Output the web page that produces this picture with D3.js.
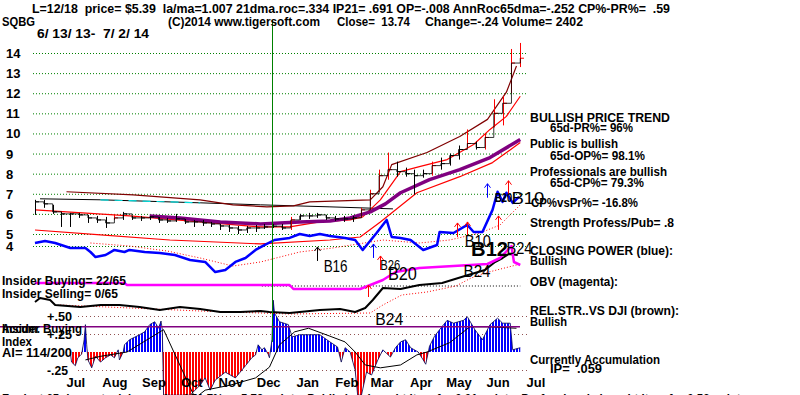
<!DOCTYPE html>
<html>
<head>
<meta charset="utf-8">
<script src="https://cdn.jsdelivr.net/npm/d3@7"></script>
<style>
body { margin: 0; background: #fff; }
svg { display: block; }
text { font-family: "Liberation Sans", Arial, sans-serif; white-space: pre; fill: #000; }
</style>
</head>
<body>
<div id="chart"></div>
<script>
var startDate = new Date(2013, 5, 13),
    endDate = new Date(2014, 6, 2);

var months = ["Jul","Aug","Sep","Oct","Nov","Dec","Jan","Feb","Mar","Apr","May","Jun","Jul"];
var monthDates = ["2013-07-15","2013-08-15","2013-09-15","2013-10-15","2013-11-15","2013-12-15",
                  "2014-01-15","2014-02-15","2014-03-15","2014-04-15","2014-05-15","2014-06-15","2014-07-15"];
var priceTicks = [14,13,12,11,10,9,8,7,6,5,4];
var aiTicks = [0.5, 0.25, -0.25];
var aiTickLabels = ["+.50","+.25","-.25"];
var aiLevel = 0.35;
var lastSignalDay = 188;   // 12/18/13

// weekly bars, one every 7 days from 6/13/13
var weekHigh  = [6.7,6.7,6.45,6.1,6.05,6.05,5.95,5.9,5.85,5.95,6.1,5.9,5.9,5.9,5.85,5.8,6.0,5.75,5.7,5.7,
                 5.6,5.5,5.45,5.4,5.4,5.45,5.5,5.5,5.5,5.85,6.0,6.05,6.05,5.95,5.9,5.9,5.9,6.3,7.2,8.2,
                 9.05,8.6,8.3,8.2,8.2,8.6,8.8,9.0,9.4,10.2,9.6,10.0,11.7,11.85,14.2,14.5];
var weekLow   = [5.95,6.3,6.0,5.35,5.35,5.8,5.55,5.55,5.3,5.7,5.7,5.7,5.65,5.7,5.55,5.55,5.6,5.5,5.35,5.4,
                 5.35,5.2,5.1,5.0,5.05,5.1,5.25,5.3,5.2,5.2,5.7,5.75,5.8,5.7,5.65,5.6,5.6,5.85,6.4,7.1,
                 7.7,7.85,7.85,6.95,7.8,7.9,8.2,8.4,8.7,9.3,9.2,9.2,10.3,10.4,12.0,13.3];
var weekClose = [6.6,6.5,6.1,6.0,6.0,5.95,5.8,5.7,5.55,5.8,6.0,5.8,5.8,5.85,5.7,5.65,5.75,5.6,5.6,5.55,
                 5.5,5.4,5.3,5.2,5.3,5.3,5.35,5.39,5.3,5.7,5.9,5.9,5.95,5.8,5.75,5.75,5.8,6.2,7.0,7.9,
                 8.2,8.1,8.0,7.9,8.0,8.4,8.5,8.9,9.2,9.5,9.3,9.8,11.0,11.5,13.5,13.74];

// [days since 6/13/13, value]
var closingPower = [[0,4.25],[8,4.42],[16,4.25],[28,3.83],[40,3.83],[44,3.5],[48,3.08],[56,3.25],[63,3.67],[71,3.5],
  [75,3.67],[87,3.5],[99,3.42],[111,3.25],[123,2.83],[135,2.67],[143,1.83],[151,2.0],[159,2.67],[167,3.0],
  [175,3.67],[182,4.08],[190,4.5],[202,4.67],[210,5.0],[218,4.83],[226,5.0],[234,4.83],[246,4.67],[254,4.5],
  [260,3.67],[271,5.05],[279,5.7],[283,4.75],[290,4.67],[298,4.5],[308,3.67],[319,4.08],[321,5.1],[332,5.05],
  [343,5.45],[348,5.1],[355,5.1],[363,6.2],[367,7.1],[371,6.6],[374,7.05],[379,6.55],[384,6.85]];
var cpAverage = [[44,4.25],[75,4.0],[105,3.58],[131,3.0],[157,2.33],[179,2.67],[210,3.5],[236,3.83],[276,4.5],
  [305,4.25],[329,4.5],[353,5.05],[369,5.45],[385,6.45]];
var ma65 = [[91,5.9],[115,5.8],[147,5.6],[179,5.5],[210,5.6],[234,5.65],[250,5.8],[266,6.1],[278,6.5],[290,7.05],
  [313,7.7],[337,8.2],[361,8.8],[385,9.7]];
var ma21 = [[0,6.2],[25,6.1],[75,5.9],[131,5.6],[179,5.35],[202,5.35],[226,5.6],[250,5.7],[260,5.85],[274,6.7],
  [290,8.1],[305,8.35],[327,8.7],[348,9.45],[361,10.2],[374,10.85],[385,11.85]];
var lowerBand = [[0,5.2],[52,4.92],[107,4.5],[179,4.17],[234,4.5],[258,4.75],[274,5.6],[303,7.05],[337,7.85],
  [363,8.55],[385,9.55]];
var upperBand = [[25,7.1],[78,6.95],[131,6.7],[157,6.45],[184,6.35],[205,6.4],[218,6.6],[266,6.7],[276,7.35],
  [283,8.45],[311,9.05],[337,9.85],[359,10.7],[374,12.05],[382,13.35]];
var longMa = [[4,6.75],[52,6.7],[131,6.55],[179,6.45],[234,6.35],[284,6.25]];

var obv = [[0,37],[71,37],[73,35],[202,35],[205,31],[258,31],[266,35],[276,40],[286,48],[305,52],[332,54],
  [359,56],[369,62],[375,70],[378,74],[380,58],[385,55]];
var relStrength = [[0,18],[4,22],[12,20],[16,15],[36,13],[52,15],[67,15],[83,13],[99,10],[115,13],[131,11],
  [147,8],[163,8],[179,9],[186,8],[202,7],[226,10],[242,11],[254,8],[262,12],[268,20],[276,32],[290,31],
  [305,35],[323,37],[341,44],[357,50],[365,58],[371,62],[376,66],[383,65]];
var rsAverage = [[20,15],[131,9],[202,6],[266,7],[276,15],[291,25],[311,28],[334,34],[346,42],[357,47],[385,56]];

var accumIndex = [[28,0],[29,-0.14],[32,-0.19],[34,-0.08],[37,-0.03],[39,0.17],[40,0.38],[41,0.1],[42,-0.11],
  [45,-0.22],[48,-0.06],[52,-0.14],[56,-0.08],[60,-0.04],[63,-0.08],[66,0.03],[67,-0.11],[70,0],[71,0.1],
  [75,0.17],[83,0.24],[87,0.28],[91,0.38],[95,0.42],[98,0.33],[100,0.43],[101,0.31],[102,-0.6],[123,-0.6],
  [131,-0.46],[135,-0.36],[139,-0.53],[143,-0.39],[151,-0.28],[159,-0.36],[167,-0.19],[172,-0.08],[175,-0.04],
  [177,0.1],[180,0.03],[182,0.06],[185,-0.03],[186,-0.08],[188,0.17],[189,0.72],[190,0.54],[194,0.42],
  [201,0.38],[204,0.21],[210,0.24],[226,0.24],[234,0.14],[240,0.07],[243,-0.14],[246,0.06],[250,0],
  [254,-0.25],[256,-0.6],[259,-0.6],[263,-0.28],[267,-0.32],[272,-0.11],[276,0.03],[282,-0.07],[286,0.06],
  [290,0.14],[294,0.17],[298,0.06],[304,0],[308,-0.11],[310,-0.17],[313,0.08],[317,0.22],[321,0.31],
  [327,0.44],[332,0.4],[340,0.44],[343,0.49],[349,0.31],[355,0.17],[361,0.38],[367,0.47],[371,0.4],
  [377,0.4],[379,0.03],[385,0.06]];
var aiAverage = [[40,-0.11],[52,-0.06],[73,0],[102,0.31],[127,-0.64],[135,-0.53],[155,-0.46],[175,-0.36],
  [186,-0.21],[194,0.1],[206,0.28],[217,0.33],[234,0.22],[246,0.14],[254,0],[262,-0.18],[274,-0.22],
  [290,-0.18],[303,-0.04],[311,0],[329,0.13],[345,0.35],[361,0.35],[382,0.33]];

// signals
var arrowDay  = [224, 268, 274, 335, 343, 367, 359, 375];
var arrowTip  = [3.92, 4.17, 3.17, 5.55, 5.6, 5.9, 7.5, 7.65];
var arrowKind = ["buy","cp","vol","vol","vol","vol","cp","vol"];
var signalText = ["B16","B26","B20","B24","B10","B12","B24","B20","B10"];
var signalDay  = [229, 274, 280, 340, 341, 346, 374, 365, 378];
var signalVal  = [1.83, 2.0, 1.17, 1.42, 3.92, 3.17, 3.33, 6.6, 6.5];

var svg = d3.select("#chart").append("svg").attr("width", 800).attr("height", 395);

var x = d3.scaleTime().domain([startDate, endDate]).range([35, 519]);
function dayX(d) { return x(new Date(+startDate + d * 864e5)); }
var yPrice = d3.scaleLinear().domain([4, 5, 14]).range([246, 234, 53]);
var yLine = d3.scaleLinear().domain([0, 100]).range([320, 220]);
var yAI = d3.scaleLinear().domain([-0.25, 0.5]).range([370, 316]);

function addText(str, px, py, size, weight, fit, anchor) {
  var t = svg.append("text").attr("x", px).attr("y", py)
    .attr("font-size", size).attr("font-weight", weight).text(str);
  if (fit) t.attr("textLength", fit).attr("lengthAdjust", "spacingAndGlyphs");
  if (anchor) t.attr("text-anchor", anchor);
  return t;
}

function drawLine(data, scale, color, w, dash) {
  var p = svg.append("path").datum(data)
    .attr("fill", "none").attr("stroke", color).attr("stroke-width", w)
    .attr("stroke-linejoin", "round")
    .attr("d", d3.line().x(function(d) { return dayX(d[0]); }).y(function(d) { return scale(d[1]); }));
  if (dash) p.attr("stroke-dasharray", dash);
  return p;
}

// price grid
svg.append("g").selectAll("line").data(priceTicks).join("line")
  .attr("x1", 33).attr("x2", 527)
  .attr("y1", function(d) { return yPrice(d) + 0.5; }).attr("y2", function(d) { return yPrice(d) + 0.5; })
  .attr("stroke", "#008000").attr("stroke-width", 1).attr("stroke-dasharray", "1,2");
svg.append("g").selectAll("text").data(priceTicks).join("text")
  .attr("x", 6).attr("y", function(d) { return yPrice(d) + 5; })
  .attr("font-size", 13).attr("font-weight", "bold").text(function(d) { return d; });

// accumulation grid
svg.append("g").selectAll("line").data(aiTicks).join("line")
  .attr("x1", 78).attr("x2", 527)
  .attr("y1", function(d) { return yAI(d) + 0.5; }).attr("y2", function(d) { return yAI(d) + 0.5; })
  .attr("stroke", "#905050").attr("stroke-width", 1).attr("stroke-dasharray", "1,3");
aiTicks.forEach(function(t, i) { addText(aiTickLabels[i], 47, yAI(t) + 5, 13, "bold", i == 2 ? 21 : 25); });

// striped accumulation histogram
var defs = svg.append("defs");
function stripes(id, color) {
  var p = defs.append("pattern").attr("id", id).attr("patternUnits", "userSpaceOnUse")
    .attr("width", 3).attr("height", 8);
  p.append("rect").attr("width", 3).attr("height", 8).attr("fill", "#fff");
  p.append("rect").attr("width", 2).attr("height", 8).attr("fill", color);
}
stripes("blueStripe", "#0000ff");
stripes("redStripe", "#ff0000");
defs.append("clipPath").attr("id", "aiUp").append("rect")
  .attr("x", 0).attr("y", 0).attr("width", 800).attr("height", yAI(0));
defs.append("clipPath").attr("id", "aiDown").append("rect")
  .attr("x", 0).attr("y", yAI(0)).attr("width", 800).attr("height", 100);

var aiArea = d3.area().x(function(d) { return dayX(d[0]); })
  .y0(yAI(0)).y1(function(d) { return yAI(d[1]); });
svg.append("path").datum(accumIndex).attr("d", aiArea).attr("fill", "url(#blueStripe)").attr("clip-path", "url(#aiUp)");
svg.append("path").datum(accumIndex).attr("d", aiArea).attr("fill", "url(#redStripe)").attr("clip-path", "url(#aiDown)");
drawLine(accumIndex, yAI, "#000050", 0.8);
drawLine(aiAverage, yAI, "#000", 1);

svg.append("line").attr("x1", 0).attr("x2", 520)
  .attr("y1", yAI(aiLevel)).attr("y2", yAI(aiLevel))
  .attr("stroke", "#800080").attr("stroke-width", 1.5);

// price panel indicator lines
drawLine(longMa, yPrice, "#000", 1);
drawLine(longMa.filter(function(d) { return d[0] >= 52 && d[0] <= 141; }), yPrice, "#00e0e0", 1.2, "8,6");
drawLine(upperBand, yPrice, "#800000", 1.2);
drawLine(lowerBand, yPrice, "#ff0000", 1.2);
drawLine(ma21, yPrice, "#ff0000", 1.2);
drawLine(cpAverage, yPrice, "#ff0000", 1, "1,2");
drawLine(ma65, yPrice, "#800080", 3.5);

// weekly price bars
var bars = svg.append("g").selectAll("g").data(weekClose).join("g")
  .attr("stroke", function(d, i) {
    if (i == 0) return "#000";
    var prev = weekClose[i - 1];
    return (weekHigh[i] > prev * 1.07 || d > prev * 1.05) ? "#ff0000" : "#000";
  });
bars.append("line")
  .attr("x1", function(d, i) { return Math.round(dayX(7 * i)) + 0.5; })
  .attr("x2", function(d, i) { return Math.round(dayX(7 * i)) + 0.5; })
  .attr("y1", function(d, i) { return yPrice(weekHigh[i]); })
  .attr("y2", function(d, i) { return yPrice(weekLow[i]); });
bars.append("line")
  .attr("x1", function(d, i) { return Math.round(dayX(7 * i)); })
  .attr("x2", function(d, i) { return Math.round(dayX(7 * i)) + 4; })
  .attr("y1", function(d) { return yPrice(d); })
  .attr("y2", function(d) { return yPrice(d); });
svg.append("path").datum(weekClose)
  .attr("fill", "none").attr("stroke", "#000").attr("stroke-width", 0.8)
  .attr("d", d3.line().curve(d3.curveStepAfter)
    .x(function(d, i) { return dayX(7 * i); }).y(function(d) { return yPrice(d); }));

drawLine(closingPower, yPrice, "#0000ff", 2.5);

// OBV / relative strength
svg.append("line").attr("x1", dayX(180)).attr("x2", dayX(385))
  .attr("y1", yLine(34)).attr("y2", yLine(34))
  .attr("stroke", "#000").attr("stroke-dasharray", "1,2");
drawLine(rsAverage, yLine, "#ff0000", 1, "1,2");
drawLine(relStrength, yLine, "#000", 2);
drawLine(obv, yLine, "#ff00ff", 2.5);

// last-signal marker
svg.append("line").attr("x1", Math.round(dayX(lastSignalDay)) + 0.5).attr("x2", Math.round(dayX(lastSignalDay)) + 0.5)
  .attr("y1", 20).attr("y2", yAI(0.14)).attr("stroke", "#008000").attr("stroke-width", 1);

// arrows
var arrowColor = { buy: "#000", cp: "#0000ff", vol: "#ff0000" };
function arrow(px, py, len, color) {
  px = Math.round(px) + 0.5;
  svg.append("path").attr("fill", "none").attr("stroke", color).attr("stroke-width", 1)
    .attr("d", "M" + px + "," + (py + len) + "V" + py + "M" + (px - 3) + "," + (py + 4) + "L" + px + "," + py + "L" + (px + 3) + "," + (py + 4));
}
arrowDay.forEach(function(d, i) { arrow(dayX(d), yPrice(arrowTip[i]), 14, arrowColor[arrowKind[i]]); });
arrow(dayX(264), yLine(35), 12, "#ff0000");

// signal labels
var signalStyle = [[17,"normal",24],[15,"normal",20],[18,"normal",29],[17,"normal",27],[17,"normal",26],
                   [21,"bold",37],[17,"normal",26],[12,"bold",17],[17,"normal",33]];
signalText.forEach(function(s, i) {
  var st = signalStyle[i];
  addText(s, dayX(signalDay[i]), yPrice(signalVal[i]), st[0], st[1], st[2]);
});
addText("B24", dayX(270), yAI(0.375), 17, "normal", 28);

// header
addText("L=12/18  price= $5.39  la/ma=1.007 21dma.roc=.334 IP21= .691 OP=-.008 AnnRoc65dma=-.252 CP%-PR%=  .59",
        32, 13, 13, "bold", 638);
addText("SQBG", 2, 25.5, 13, "bold", 33);
addText("(C)2014 www.tigersoft.com", 168, 25.5, 13, "bold", 152);
addText("Close=  13.74", 337, 25.5, 13, "bold", 73);
addText("Change=-.24 Volume= 2402", 425, 25.5, 13, "bold", 158);
addText("6/ 13/ 13-  7/ 2/ 14", 37, 38, 13, "bold", 112);

// right-hand notes
var notes = [
  ["BULLISH PRICE TREND", 530, 122, 140], ["65d-PR%= 96%", 550, 132, 83],
  ["Public is bullish", 530, 148, 88], ["65d-OP%= 98.1%", 550, 160, 95],
  ["Professionals are bullish", 530, 176, 137], ["65d-CP%= 79.3%", 550, 187, 94],
  ["CP%vsPr%= -16.8%", 531, 207, 107], ["Strength Profess/Pub= .8", 530, 227, 144],
  ["CLOSING POWER (blue):", 530, 255, 143], ["Bullish", 530, 265, 37],
  ["OBV (magenta):", 530, 286, 88], ["REL.STR..VS DJI (brown):", 530, 315, 149],
  ["Bullish", 530, 326, 37], ["Currently Accumulation", 530, 364, 130], ["IP=  .059", 550, 373, 52]
];
notes.forEach(function(n) { addText(n[0], n[1], n[2], 13, "bold", n[3]); });

// left-hand notes
addText("Insider Buying= 22/65", 2, 285, 13, "bold", 124);
addText("Insider Selling= 0/65", 2, 298, 13, "bold", 116);
addText("Accum.", 2, 333, 13, "bold", 38);
addText("Insider Buying", 2, 333, 13, "bold", 80);
addText("Index", 2, 346, 13, "bold", 30);
addText("AI= 114/200", 2, 357, 13, "bold", 70);

// month axis
var xAxis = d3.axisBottom(x)
  .tickValues(monthDates.map(function(s) { return d3.timeParse("%Y-%m-%d")(s); }))
  .tickFormat(function(d, i) { return months[i]; })
  .tickSize(0).tickPadding(0);
var ax = svg.append("g").attr("transform", "translate(0,378)").call(xAxis);
ax.select(".domain").remove();
ax.selectAll("text").attr("font-size", 13).attr("font-weight", "bold")
  .attr("font-family", "Liberation Sans, Arial, sans-serif").attr("fill", "#000");

addText("For last 65 days, stock has gained 71.7% or 5.79 points. Public has bought it up for 0.01 points. Professionals bought it up for 0.52 points",
        2, 403, 13, "bold", 745);
</script>
</body>
</html>
